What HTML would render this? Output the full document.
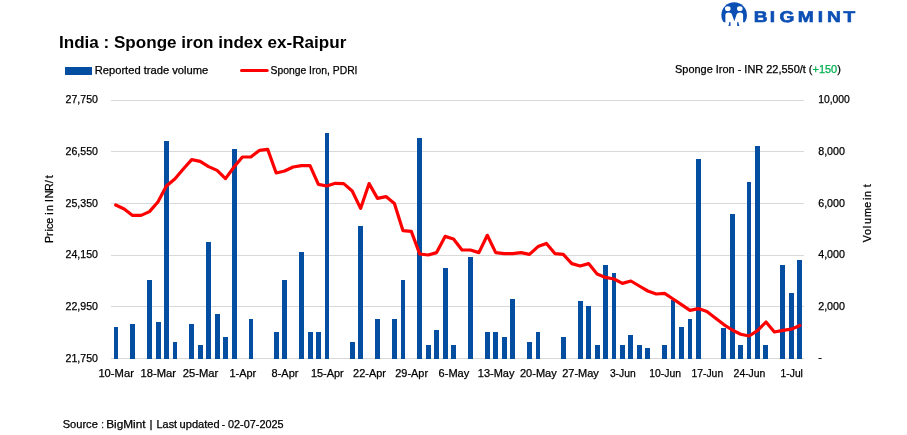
<!DOCTYPE html>
<html><head><meta charset="utf-8"><title>India : Sponge iron index ex-Raipur</title>
<style>
html,body{margin:0;padding:0;background:#fff;}
svg{display:block;}
text{font-family:"Liberation Sans",sans-serif;fill:#000;}
.t{font-size:10.75px;stroke:#000;stroke-width:0.25px;}
</style></head><body>
<svg width="907" height="435" viewBox="0 0 907 435">
<rect width="907" height="435" fill="#fff"/>
<rect x="111" y="100.0" width="693" height="1" fill="#d9d9d9"/>
<rect x="111" y="151.0" width="693" height="1" fill="#d9d9d9"/>
<rect x="111" y="203.0" width="693" height="1" fill="#d9d9d9"/>
<rect x="111" y="255.0" width="693" height="1" fill="#d9d9d9"/>
<rect x="111" y="306.0" width="693" height="1" fill="#d9d9d9"/>
<rect x="111" y="358.0" width="693" height="1" fill="#d9d9d9"/>
<g fill="#044ea2">
<rect x="114" y="327" width="4" height="32"/>
<rect x="130" y="324" width="5" height="35"/>
<rect x="147" y="280" width="5" height="79"/>
<rect x="156" y="322" width="5" height="37"/>
<rect x="164" y="141" width="5" height="218"/>
<rect x="173" y="342" width="4" height="17"/>
<rect x="189" y="324" width="5" height="35"/>
<rect x="198" y="345" width="5" height="14"/>
<rect x="206" y="242" width="5" height="117"/>
<rect x="215" y="314" width="5" height="45"/>
<rect x="223" y="337" width="5" height="22"/>
<rect x="232" y="149" width="5" height="210"/>
<rect x="249" y="319" width="4" height="40"/>
<rect x="274" y="332" width="5" height="27"/>
<rect x="282" y="280" width="5" height="79"/>
<rect x="299" y="252" width="5" height="107"/>
<rect x="308" y="332" width="5" height="27"/>
<rect x="316" y="332" width="5" height="27"/>
<rect x="325" y="133" width="4" height="226"/>
<rect x="350" y="342" width="5" height="17"/>
<rect x="358" y="226" width="5" height="133"/>
<rect x="375" y="319" width="5" height="40"/>
<rect x="392" y="319" width="5" height="40"/>
<rect x="401" y="280" width="4" height="79"/>
<rect x="417" y="138" width="5" height="221"/>
<rect x="426" y="345" width="5" height="14"/>
<rect x="434" y="330" width="5" height="29"/>
<rect x="443" y="268" width="5" height="91"/>
<rect x="451" y="345" width="5" height="14"/>
<rect x="468" y="257" width="5" height="102"/>
<rect x="485" y="332" width="5" height="27"/>
<rect x="493" y="332" width="5" height="27"/>
<rect x="502" y="337" width="5" height="22"/>
<rect x="510" y="299" width="5" height="60"/>
<rect x="527" y="342" width="5" height="17"/>
<rect x="536" y="332" width="4" height="27"/>
<rect x="561" y="337" width="5" height="22"/>
<rect x="578" y="301" width="5" height="58"/>
<rect x="586" y="306" width="5" height="53"/>
<rect x="595" y="345" width="5" height="14"/>
<rect x="603" y="265" width="5" height="94"/>
<rect x="612" y="273" width="4" height="86"/>
<rect x="620" y="345" width="5" height="14"/>
<rect x="628" y="335" width="5" height="24"/>
<rect x="637" y="345" width="5" height="14"/>
<rect x="645" y="348" width="5" height="11"/>
<rect x="662" y="345" width="5" height="14"/>
<rect x="671" y="300" width="4" height="59"/>
<rect x="679" y="327" width="5" height="32"/>
<rect x="688" y="319" width="4" height="40"/>
<rect x="696" y="159" width="5" height="200"/>
<rect x="721" y="328" width="5" height="31"/>
<rect x="730" y="214" width="5" height="145"/>
<rect x="738" y="345" width="5" height="14"/>
<rect x="747" y="182" width="4" height="177"/>
<rect x="755" y="146" width="5" height="213"/>
<rect x="763" y="345" width="5" height="14"/>
<rect x="780" y="265" width="5" height="94"/>
<rect x="789" y="293" width="5" height="66"/>
<rect x="797" y="260" width="5" height="99"/>
</g>
<polyline points="115.7,205 124.2,209 132.6,215.4 141.1,215.4 149.5,211.6 157.9,202 166.4,186 174.8,179 183.3,169 191.7,159.6 200.2,161.4 208.6,166.6 217.1,170.4 225.5,178.6 234.0,167 242.4,157 250.8,157 259.3,150.4 267.7,149.4 276.2,173 284.6,171 293.1,167 301.5,165.6 310.0,165.6 318.4,184.4 326.8,186 335.3,183.3 343.7,183.6 352.2,191 360.6,208.4 369.1,183.6 377.5,198.4 386.0,196.6 394.4,203.4 402.9,230.6 411.3,231.4 419.7,254 428.2,255 436.6,252.6 445.1,236.4 453.5,239 462.0,250 470.4,250 478.9,252.6 487.3,235.3 495.7,252.6 504.2,253.6 512.6,253.6 521.1,252.6 529.5,254.4 538.0,246.6 546.4,243.4 554.9,253.6 563.3,254.4 571.8,263.6 580.2,266 588.6,263.6 597.1,274 605.5,277.4 614.0,279 622.4,283.4 630.9,281 639.3,286 647.8,291 656.2,294 664.6,293.4 673.1,299 681.5,304.6 690.0,310.4 698.4,308.6 706.9,311.6 715.3,318 723.8,324.6 732.2,330 740.7,334.2 749.1,336 757.5,330.6 766.0,322 774.4,332 782.9,330.4 791.3,329.2 799.8,325.5" fill="none" stroke="#ff0000" stroke-width="3.2" stroke-linejoin="round" stroke-linecap="round"/>
<text class="t" x="98" y="103.2" text-anchor="end" textLength="32.4" lengthAdjust="spacingAndGlyphs">27,750</text>
<text class="t" x="98" y="155.1" text-anchor="end" textLength="32.4" lengthAdjust="spacingAndGlyphs">26,550</text>
<text class="t" x="98" y="207.1" text-anchor="end" textLength="32.4" lengthAdjust="spacingAndGlyphs">25,350</text>
<text class="t" x="98" y="258.2" text-anchor="end" textLength="32.4" lengthAdjust="spacingAndGlyphs">24,150</text>
<text class="t" x="98" y="310.1" text-anchor="end" textLength="32.4" lengthAdjust="spacingAndGlyphs">22,950</text>
<text class="t" x="98" y="362.1" text-anchor="end" textLength="32.4" lengthAdjust="spacingAndGlyphs">21,750</text>
<text class="t" x="818.2" y="103.2" textLength="31.7" lengthAdjust="spacingAndGlyphs">10,000</text>
<text class="t" x="818.2" y="155.1" textLength="26.8" lengthAdjust="spacingAndGlyphs">8,000</text>
<text class="t" x="818.2" y="207.1" textLength="26.8" lengthAdjust="spacingAndGlyphs">6,000</text>
<text class="t" x="818.2" y="258.2" textLength="26.8" lengthAdjust="spacingAndGlyphs">4,000</text>
<text class="t" x="818.2" y="310.1" textLength="26.8" lengthAdjust="spacingAndGlyphs">2,000</text>
<text class="t" x="818.2" y="361.1">-</text>
<text class="t" x="98.4" y="377" textLength="35.5" lengthAdjust="spacingAndGlyphs">10-Mar</text>
<text class="t" x="140.6" y="377" textLength="35.5" lengthAdjust="spacingAndGlyphs">18-Mar</text>
<text class="t" x="182.8" y="377" textLength="35.5" lengthAdjust="spacingAndGlyphs">25-Mar</text>
<text class="t" x="229.4" y="377" textLength="26.8" lengthAdjust="spacingAndGlyphs">1-Apr</text>
<text class="t" x="271.6" y="377" textLength="26.8" lengthAdjust="spacingAndGlyphs">8-Apr</text>
<text class="t" x="310.9" y="377" textLength="32.8" lengthAdjust="spacingAndGlyphs">15-Apr</text>
<text class="t" x="353.1" y="377" textLength="32.8" lengthAdjust="spacingAndGlyphs">22-Apr</text>
<text class="t" x="395.3" y="377" textLength="32.8" lengthAdjust="spacingAndGlyphs">29-Apr</text>
<text class="t" x="438.6" y="377" textLength="30.7" lengthAdjust="spacingAndGlyphs">6-May</text>
<text class="t" x="477.8" y="377" textLength="36.7" lengthAdjust="spacingAndGlyphs">13-May</text>
<text class="t" x="520.0" y="377" textLength="36.7" lengthAdjust="spacingAndGlyphs">20-May</text>
<text class="t" x="562.2" y="377" textLength="36.7" lengthAdjust="spacingAndGlyphs">27-May</text>
<text class="t" x="609.9" y="377" textLength="25.8" lengthAdjust="spacingAndGlyphs">3-Jun</text>
<text class="t" x="649.2" y="377" textLength="31.8" lengthAdjust="spacingAndGlyphs">10-Jun</text>
<text class="t" x="691.4" y="377" textLength="31.8" lengthAdjust="spacingAndGlyphs">17-Jun</text>
<text class="t" x="733.6" y="377" textLength="31.8" lengthAdjust="spacingAndGlyphs">24-Jun</text>
<text class="t" x="780.6" y="377" textLength="22.3" lengthAdjust="spacingAndGlyphs">1-Jul</text>
<text x="59" y="48.3" font-size="17.4px" font-weight="bold" textLength="287.3" lengthAdjust="spacingAndGlyphs">India : Sponge iron index ex-Raipur</text>
<rect x="65" y="67" width="27" height="8" fill="#044ea2"/>
<text class="t" x="94.7" y="74" textLength="113.6" lengthAdjust="spacingAndGlyphs">Reported trade volume</text>
<line x1="241.5" y1="70.5" x2="267.2" y2="70.5" stroke="#ff0000" stroke-width="3" stroke-linecap="round"/>
<text class="t" x="270.5" y="74" textLength="87" lengthAdjust="spacingAndGlyphs">Sponge Iron, PDRI</text>
<text class="t" x="675" y="73.3" textLength="165.8" lengthAdjust="spacingAndGlyphs">Sponge Iron - INR 22,550/t (<tspan style="fill:#00b050;stroke:#00b050">+150</tspan>)</text>
<text class="t" transform="translate(53.3,208.4) rotate(-90)" y="0" x="-34.5 -27.65 -23.15 -20.5 -15.3 -9.5 -6.35 -2.65 3.5 6.4 10.15 17.3 25.25 30.1">Price in INR/t</text>
<text class="t" transform="translate(870.7,212.6) rotate(-90)" y="0" x="-29.6 -22.3 -15.7 -11.35 -4.4 4.8 10.5 12.5 15.7 22 25.45">Volume in t</text>
<text class="t" y="427.8"><tspan x="62.7" textLength="38.2" lengthAdjust="spacingAndGlyphs">Source </tspan><tspan x="101.6" textLength="4.6" lengthAdjust="spacingAndGlyphs">: </tspan><tspan x="106.2" textLength="42.6" lengthAdjust="spacingAndGlyphs">BigMint </tspan><tspan x="149.6" textLength="6.3" lengthAdjust="spacingAndGlyphs">| </tspan><tspan x="156.6" textLength="23.5" lengthAdjust="spacingAndGlyphs">Last </tspan><tspan x="179.6" textLength="43.1" lengthAdjust="spacingAndGlyphs">updated </tspan><tspan x="221.8" textLength="6" lengthAdjust="spacingAndGlyphs">- </tspan><tspan x="228" textLength="55.6" lengthAdjust="spacingAndGlyphs">02-07-2025</tspan></text>
<g>
<circle cx="734.15" cy="15.1" r="12.8" fill="#0c4fb4"/>
<rect x="720" y="22.3" width="29" height="7" fill="#fff"/>
<ellipse cx="727.8" cy="8.7" rx="2.8" ry="2.4" fill="#fff"/>
<ellipse cx="739.8" cy="8.7" rx="2.8" ry="2.4" fill="#fff"/>
<path d="M725.4 24 L725.4 15 Q725.4 12.5 728.5 12.5 Q731.3 12.5 731.8 14 L734.3 21.3 L736.8 14 Q737.3 12.5 740 12.5 Q743.1 12.5 743.1 15 L743.1 24 Z" fill="#fff"/>
<path d="M729.4 22 L730.5 22 L730.5 26 L728.5 26 Z M738.2 22 L737.2 22 L737.2 26 L739.4 26 Z" fill="#0c4fb4"/>
<text transform="translate(755,21.9) scale(1.22,1.0)" x="-1.12 12.12 20.04 35.10 51.38 59.09 72.62" y="0" font-size="15.7px" font-weight="bold" style="fill:#0c4fb4;stroke:#0c4fb4;stroke-width:0.6px;text-rendering:geometricPrecision">BIGMINT</text>
</g>
</svg>
</body></html>
